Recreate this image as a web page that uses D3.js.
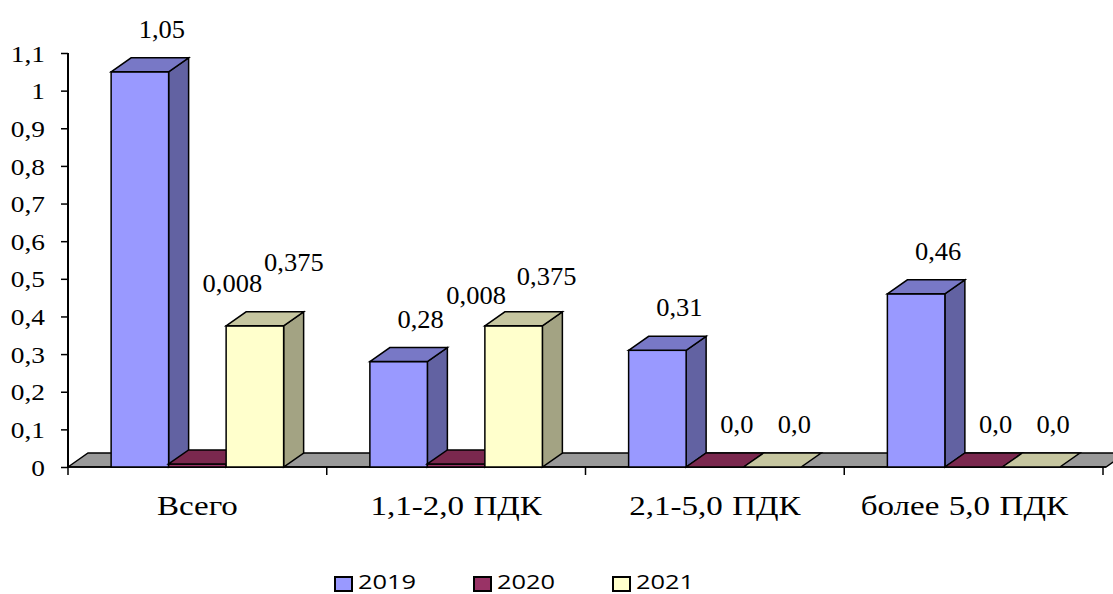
<!DOCTYPE html>
<html>
<head>
<meta charset="utf-8">
<script src="https://cdn.jsdelivr.net/npm/d3@7"></script>
<style>
  html, body { margin: 0; padding: 0; background: #fff; }
  svg { display: block; }
  .serif { font-family: "Liberation Serif", "Times New Roman", Tinos, "DejaVu Serif", serif; }
  .sans { font-family: "Open Sans", "Liberation Sans", sans-serif; }
</style>
</head>
<body>
<svg id="chart" width="1113" height="594"></svg>
<script>
// Categories and yearly series
const categories = ["Всего", "1,1-2,0 ПДК", "2,1-5,0 ПДК", "более 5,0 ПДК"];
const years = ["2019", "2020", "2021"];
const values2019 = [1.05, 0.28, 0.31, 0.46];
const values2020 = [0.008, 0.008, 0.0, 0.0];
const values2021 = [0.375, 0.375, 0.0, 0.0];
const labels2019 = ["1,05", "0,28", "0,31", "0,46"];
const labels2020 = ["0,008", "0,008", "0,0", "0,0"];
const labels2021 = ["0,375", "0,375", "0,0", "0,0"];
const yTicks = [0, 0.1, 0.2, 0.3, 0.4, 0.5, 0.6, 0.7, 0.8, 0.9, 1, 1.1];

const series = [
  { year: years[0], values: values2019, labels: labels2019 },
  { year: years[1], values: values2020, labels: labels2020 },
  { year: years[2], values: values2021, labels: labels2021 }
];

// Face colours per series: front, top, side
const faces = {
  "2019": { front: "#9999FF", top: "#7878C6", side: "#6262A2" },
  "2020": { front: "#993366", top: "#7A284E", side: "#5E1F3D" },
  "2021": { front: "#FFFFCC", top: "#C6C6A0", side: "#A3A383" }
};

// Hand-placed data labels (offset from the default spot)
const labelNudge = {
  "0|1": [13, -138],
  "0|2": [17, -21],
  "1|1": [-2, -126],
  "1|2": [11, -7]
};

const svg = d3.select("#chart");
const depthX = 20, depthY = -14;
const plotLeft = 68, plotRight = 1103, plotBottom = 467, plotTop = 53;
const labelMaxRight = 1068;

const x = d3.scaleBand().domain(categories).range([plotLeft, plotRight])
  .paddingInner(1 / 3).paddingOuter(1 / 6);
const xs = d3.scaleBand().domain(years).range([0, x.bandwidth()]);
const y = d3.scaleLinear().domain([0, 1.1]).range([plotBottom, plotTop]);

// Floor
svg.append("polygon")
  .attr("points", [
    [plotLeft, y(0)], [plotLeft + depthX, y(0) + depthY],
    [plotRight + 3 + depthX, y(0) + depthY], [plotRight + 3, y(0)]
  ].map(p => p.join(",")).join(" "))
  .attr("fill", "#999999").attr("stroke", "#000").attr("stroke-width", 1.5);

// Y axis
const yAxis = svg.append("g").attr("transform", `translate(${plotLeft},0)`)
  .call(d3.axisLeft(y).tickValues(yTicks).tickSize(7).tickPadding(16)
    .tickFormat(d => d3.format(".1~f")(d).replace(".", ",")));
yAxis.attr("font-family", null).attr("font-size", null);
yAxis.select(".domain").attr("stroke", "#000").attr("stroke-width", 2).attr("d", `M0,${y(0)}V${y(1.1)}`);
yAxis.selectAll(".tick line").attr("stroke", "#000").attr("stroke-width", 1.5);
yAxis.selectAll(".tick text")
  .attr("class", "serif").style("font-size", "24px").attr("fill", "#000")
  .attr("x", 0).attr("transform", "translate(-23,0) scale(1.14,1)")
  .attr("dy", "0.34em");

// X axis ticks at category boundaries
const bounds = categories.map((c, i) => plotLeft + i * x.step()).concat([plotRight]);
svg.append("g").selectAll("line").data(bounds).join("line")
  .attr("x1", d => d).attr("x2", d => d)
  .attr("y1", y(0)).attr("y2", y(0) + 8)
  .attr("stroke", "#000").attr("stroke-width", 1.5);
svg.append("line")
  .attr("x1", plotLeft).attr("x2", plotRight + 3).attr("y1", y(0)).attr("y2", y(0))
  .attr("stroke", "#000").attr("stroke-width", 1.5);

// Category labels, kept inside the chart area on the right
const catScale = 1.18;
svg.append("g").selectAll("text").data(categories).join("text")
  .attr("class", "serif")
  .attr("text-anchor", "middle")
  .style("font-size", "28px").style("word-spacing", "1px").attr("fill", "#000")
  .text(d => d)
  .attr("transform", function (d) {
    const cx = x(d) + x.bandwidth() / 2;
    const half = this.getComputedTextLength() * catScale / 2;
    const shift = Math.min(0, labelMaxRight - (cx + half));
    return `translate(${cx + shift},515) scale(${catScale},1)`;
  });

// 3D bars, drawn left to right
const bars = svg.append("g");
categories.forEach((cat, ci) => {
  series.forEach((s, si) => {
    const v = s.values[ci];
    const f = faces[s.year];
    const x0 = x(cat) + xs(s.year);
    const w = xs.bandwidth();
    const yv = y(v), y0 = y(0);
    const g = bars.append("g")
      .attr("stroke", "#000").attr("stroke-width", 1.5).attr("stroke-linejoin", "miter");
    if (y0 - yv > 0.5) {
      g.append("polygon")
        .attr("points", [[x0 + w, yv], [x0 + w + depthX, yv + depthY],
          [x0 + w + depthX, y0 + depthY], [x0 + w, y0]].map(p => p.join(",")).join(" "))
        .attr("fill", f.side);
      g.append("rect")
        .attr("x", x0).attr("y", yv).attr("width", w).attr("height", y0 - yv)
        .attr("fill", f.front);
    }
    g.append("polygon")
      .attr("points", [[x0, yv], [x0 + depthX, yv + depthY],
        [x0 + w + depthX, yv + depthY], [x0 + w, yv]].map(p => p.join(",")).join(" "))
      .attr("fill", f.top);
  });
});

// Data labels
const lbl = svg.append("g");
categories.forEach((cat, ci) => {
  series.forEach((s, si) => {
    const v = s.values[ci];
    const cx = x(cat) + xs(s.year) + xs.bandwidth() / 2 + 22;
    const by = y(v) + depthY - 20;
    const n = labelNudge[ci + "|" + si] || [0, 0];
    lbl.append("text")
      .attr("class", "serif")
      .attr("transform", `translate(${cx + n[0]},${by + n[1]}) scale(1.06,1)`)
      .attr("text-anchor", "middle")
      .style("font-size", "25px").attr("fill", "#000")
      .text(s.labels[ci]);
  });
});

// Legend
const legend = svg.append("g");
const lx = d3.scaleLinear().domain([0, 1]).range([335, 474]);
years.forEach((yr, i) => {
  const gx = lx(i);
  legend.append("rect")
    .attr("x", gx).attr("y", 577).attr("width", 17).attr("height", 14)
    .attr("fill", faces[yr].front).attr("stroke", "#000").attr("stroke-width", 2);
  legend.append("text")
    .attr("class", "sans")
    .attr("transform", `translate(${gx + 23},589) scale(1.27,1)`)
    .style("font-size", "20px").attr("fill", "#000")
    .text(yr);
});
</script>
</body>
</html>
